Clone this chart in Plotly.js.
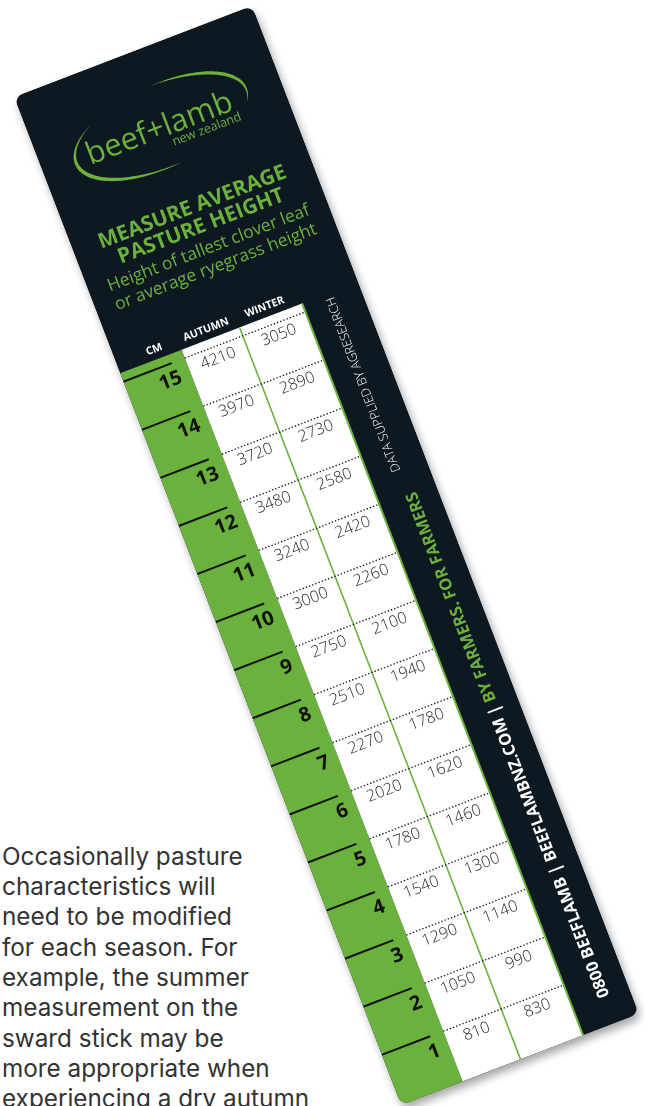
<!DOCTYPE html>
<html><head><meta charset="utf-8">
<script src="https://cdn.plot.ly/plotly-3.0.1.min.js"></script>
<style>
html,body{margin:0;padding:0;background:#fff;width:647px;height:1106px;overflow:hidden;}
#page{position:absolute;left:0;top:0;width:647px;height:1106px;}
#shadow{position:absolute;left:0;top:0;width:647px;height:1106px;filter:drop-shadow(3px 5px 4px rgba(0,0,0,0.35));pointer-events:none;}
#stick{position:absolute;left:14.1px;top:97.2px;width:255px;height:1080px;transform-origin:0 0;transform:rotate(-21deg);border-radius:9px;overflow:hidden;}
</style></head>
<body>
<div id="page"></div>
<div id="shadow"><div id="stick"></div></div>
<script>
// ---------- data ----------
const CM = [15, 14, 13, 12, 11, 10, 9, 8, 7, 6, 5, 4, 3, 2, 1];
const AUTUMN = [4210, 3970, 3720, 3480, 3240, 3000, 2750, 2510, 2270, 2020, 1780, 1540, 1290, 1050, 810];
const WINTER = [3050, 2890, 2730, 2580, 2420, 2260, 2100, 1940, 1780, 1620, 1460, 1300, 1140, 990, 830];
const HEADERS = ['CM', 'AUTUMN', 'WINTER'];
const LOGO_MAIN = 'beef+lamb';
const LOGO_SUB = 'new zealand';
const TITLE_LINES = ['MEASURE AVERAGE', 'PASTURE HEIGHT'];
const SUBTITLE_LINES = ['Height of tallest clover leaf', 'or average ryegrass height'];
const CREDIT = 'DATA SUPPLIED BY AGRESEARCH';
const CONTACT = ['0800 BEEFLAMB', 'BEEFLAMBNZ.COM'];
const SLOGAN = 'BY FARMERS. FOR FARMERS';
const PARAGRAPH = ['Occasionally pasture', 'characteristics will', 'need to be modified',
  'for each season. For', 'example, the summer', 'measurement on the',
  'sward stick may be', 'more appropriate when', 'experiencing a dry autumn'];

// ---------- style / geometry ----------
const DARK = '#0e1820', GREEN = '#6bb13e', INK = '#262626';
const FONT = 'Open Sans, sans-serif';
const PARA_FONT = 'Inter, Open Sans, sans-serif';
const W = 255, H = 1080, PX_PER_CM = 51.5, TICK_TOP_V = 305, TABLE_TOP = 296;
const GREEN_R = 66, DIV_X = 128, WHITE_R = 195, TICK_LEN = 52;
const X_AUT = 97, X_WIN = 162, X_CMLAB = 56;
const cmMin = 15 - (H - TICK_TOP_V) / PX_PER_CM, cmMax = 15 + TICK_TOP_V / PX_PER_CM;

// logo swoosh built as tapered arcs
function arcPath(t0, t1, wmax) {
  const cx = 127, cy = 80, rx = 90, ry = 41, k = 22, m = 6, N = 60;
  const out = [], inn = [];
  for (let i = 0; i <= N; i++) {
    const t = (t0 + (t1 - t0) * i / N) * Math.PI / 180;
    const w = wmax * Math.sin(Math.PI * i / N) + 0.2;
    out.push([cx + (rx + w / 2) * Math.cos(t) + k * Math.sin(t), cy - (ry + w / 2) * Math.sin(t) + m * Math.cos(t)]);
    inn.push([cx + (rx - w / 2) * Math.cos(t) + k * Math.sin(t), cy - (ry - w / 2) * Math.sin(t) + m * Math.cos(t)]);
  }
  const pts = out.concat(inn.reverse());
  return 'M' + pts.map(p => p[0].toFixed(2) + ',' + p[1].toFixed(2)).join('L') + 'Z';
}

const shapes = [
  {type: 'rect', xref: 'x', yref: 'y2', x0: 0, x1: GREEN_R, y0: TABLE_TOP, y1: H, fillcolor: GREEN, line: {width: 0}, layer: 'below'},
  {type: 'rect', xref: 'x', yref: 'y2', x0: GREEN_R, x1: WHITE_R, y0: TABLE_TOP, y1: H, fillcolor: '#ffffff', line: {width: 0}, layer: 'below'},
  {type: 'line', xref: 'x', yref: 'y2', x0: DIV_X, x1: DIV_X, y0: TABLE_TOP, y1: H, line: {color: GREEN, width: 1.6}},
  {type: 'line', xref: 'x', yref: 'y2', x0: WHITE_R, x1: WHITE_R, y0: TABLE_TOP, y1: H, line: {color: GREEN, width: 2}},
  {type: 'path', xref: 'x', yref: 'y2', path: arcPath(-2, 100, 3.2), fillcolor: GREEN, line: {width: 0}},
  {type: 'path', xref: 'x', yref: 'y2', path: arcPath(150, 287, 3.6), fillcolor: GREEN, line: {width: 0}}
];
CM.forEach(c => {
  shapes.push({type: 'line', xref: 'x', yref: 'y', x0: 0, x1: TICK_LEN, y0: c, y1: c, line: {color: '#111', width: 2}});
  shapes.push({type: 'line', xref: 'x', yref: 'y', x0: GREEN_R, x1: WHITE_R, y0: c, y1: c, line: {color: '#222', width: 1.4, dash: '1.4px,2px'}});
});

const ann = (x, y, text, size, color, opts) => Object.assign({
  xref: 'x', yref: 'y2', x: x, y: y, text: text, showarrow: false, borderpad: 0, borderwidth: 0,
  font: {family: FONT, size: size, color: color}, xanchor: 'center', yanchor: 'middle'
}, opts || {});
const boldFont = (size, color) => ({font: {family: FONT, size: size, color: color, weight: 'bold'}});

const annotations = [
  ann(124, 79, LOGO_MAIN, 31, GREEN, {font: {family: FONT, size: 31, color: GREEN, weight: 500}}),
  ann(168, 98, LOGO_SUB, 12.5, GREEN, {font: {family: FONT, size: 12.5, color: GREEN, weight: 500}}),
  ann(127, 165, TITLE_LINES[0], 21, GREEN, boldFont(21, GREEN)),
  ann(128, 186, TITLE_LINES[1], 21, GREEN, boldFont(21, GREEN)),
  ann(127.5, 209, SUBTITLE_LINES[0], 17.4, GREEN),
  ann(127.5, 229, SUBTITLE_LINES[1], 17.4, GREEN),
  ann(40, 285, HEADERS[0], 10.6, '#fff', boldFont(10.6, '#fff')),
  ann(96, 285, HEADERS[1], 10.6, '#fff', boldFont(10.6, '#fff')),
  ann(158, 285, HEADERS[2], 10.6, '#fff', boldFont(10.6, '#fff')),
  ann(222, 394, CREDIT, 12.5, '#fff', {textangle: -90, font: {family: FONT, size: 12.5, color: '#fff', weight: 300}}),
  ann(227, 782, CONTACT[0] + ' | ' + CONTACT[1] + ' | <span style="color:' + GREEN + '">' + SLOGAN + '</span>', 16.5, '#fff',
      Object.assign({textangle: -90}, boldFont(16.5, '#fff')))
];

const traces = [
  {type: 'scatter', mode: 'text', x: AUTUMN.map(() => X_AUT), y: CM.map(c => c - 0.25), text: AUTUMN.map(String),
   textfont: {family: FONT, size: 16, color: INK, weight: 300}, hoverinfo: 'skip', xaxis: 'x', yaxis: 'y'},
  {type: 'scatter', mode: 'text', x: WINTER.map(() => X_WIN), y: CM.map(c => c - 0.25), text: WINTER.map(String),
   textfont: {family: FONT, size: 16, color: INK, weight: 300}, hoverinfo: 'skip', xaxis: 'x', yaxis: 'y'},
  {type: 'scatter', mode: 'text', x: CM.map(() => X_CMLAB), y: CM.map(c => c - 0.33), text: CM.map(String),
   textposition: 'middle left', textfont: {family: FONT, size: 20, color: '#111', weight: 'bold'}, hoverinfo: 'skip', xaxis: 'x', yaxis: 'y'},
  {type: 'scatter', mode: 'markers', x: [0], y: [0], marker: {opacity: 0}, hoverinfo: 'skip', xaxis: 'x', yaxis: 'y2'}
];

const hidden = {visible: false, showgrid: false, zeroline: false, fixedrange: true};
Plotly.newPlot('stick', traces, {
  width: W, height: H, margin: {l: 0, r: 0, t: 0, b: 0, pad: 0},
  paper_bgcolor: DARK, plot_bgcolor: DARK, showlegend: false,
  xaxis: Object.assign({range: [0, W]}, hidden),
  yaxis: Object.assign({range: [cmMin, cmMax]}, hidden),
  yaxis2: Object.assign({range: [H, 0], overlaying: 'y'}, hidden),
  shapes: shapes, annotations: annotations
}, {staticPlot: true, displayModeBar: false});

// ---------- page paragraph ----------
const PFS = 24.3, BASE0 = 864, LINE_H = 30.3;
Plotly.newPlot('page', [{type: 'scatter', x: [0], y: [0], mode: 'markers', marker: {opacity: 0}, hoverinfo: 'skip'}], {
  width: 647, height: 1106, margin: {l: 0, r: 0, t: 0, b: 0, pad: 0},
  paper_bgcolor: '#fff', plot_bgcolor: '#fff', showlegend: false,
  xaxis: Object.assign({range: [0, 647]}, hidden),
  yaxis: Object.assign({range: [1106, 0]}, hidden),
  annotations: PARAGRAPH.map((line, i) => ({
    xref: 'x', yref: 'y', x: 2, y: BASE0 + i * LINE_H - 0.34 * PFS, text: line, showarrow: false,
    borderpad: 0, borderwidth: 0,
    xanchor: 'left', yanchor: 'middle', font: {family: PARA_FONT, size: PFS, color: '#333'}
  }))
}, {staticPlot: true, displayModeBar: false});
</script>
</body></html>
